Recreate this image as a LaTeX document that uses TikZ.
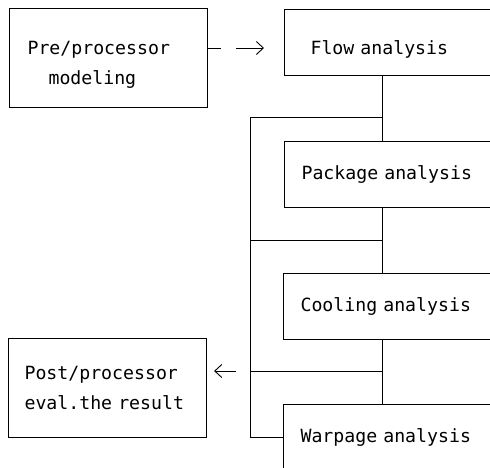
\documentclass[tikz,border=0pt]{standalone}
\usepackage{fontspec}
\newfontfamily\plotfont[WordSpace={1.85,0,0}]{DejaVu Sans Mono}
\usetikzlibrary{arrows.meta}

\tikzset{
  box/.style={draw, rectangle, line width=1.1pt, anchor=north west,
    align=left, font=\plotfont\fontsize{18.2}{30}\selectfont},
  stagebox/.style={box, minimum height=66pt, text width=190pt, inner xsep=17pt},
  endbox/.style={box, minimum height=99pt, text width=166pt, inner xsep=16pt},
  link/.style={line width=0.9pt},
  tip/.style={-{Straight Barb[length=7pt, width=13pt, line width=0.9pt]}}
}
\newcommand{\dropline}[1]{\raisebox{-7pt}[\height][\depth]{#1}}

\begin{document}
\begin{tikzpicture}[x=1pt, y=-1pt]

  \useasboundingbox (0,0) rectangle (490,467);
  \clip (0,0) rectangle (490,467);

  % Pre and post processor boxes
  \node[endbox, inner xsep=18pt, text width=162pt] (pre) at (9,8)
    {\dropline{Pre/processor}\\\hspace*{21pt}\dropline{modeling}};
  \node[endbox] (post) at (8,338) {Post/processor\\eval.the result};

  % Analysis boxes (cut by the right edge)
  \node[stagebox, inner xsep=26pt, text width=180pt] (flow) at (284,9)
    {\dropline{Flow analysis}};
  \node[stagebox] (package) at (284,141) {Package analysis};
  \node[stagebox] (cooling) at (283,273) {Cooling analysis};
  \node[stagebox] (warpage) at (283,404) {Warpage analysis};

  % Junctions
  \coordinate (j1) at (382,117);
  \coordinate (j2) at (382,240);
  \coordinate (j3) at (382,371);
  \coordinate (bus) at (250,117);
  \coordinate (a1) at (264,48);
  \coordinate (a2) at (236,371);

  % Chain between the analyses
  \draw[link] (flow.south -| j1) -- (package.north -| j1);
  \draw[link] (package.south -| j2) -- (cooling.north -| j2);
  \draw[link] (cooling.south -| j3) -- (warpage.north -| j3);

  % Return bus on the left
  \draw[link] (j1) -- (bus) -- (bus |- warpage.west) -- (warpage.west);
  \draw[link] (bus |- j2) -- (j2);
  \draw[link] (bus |- j3) -- (j3);

  % Arrows
  \draw[link, tip, dash pattern=on 13pt off 15pt on 40pt] (pre.east |- a1) -- (a1);
  \draw[link, tip, shorten >=7pt] (a2) -- (post.east |- a2);

\end{tikzpicture}
\end{document}
